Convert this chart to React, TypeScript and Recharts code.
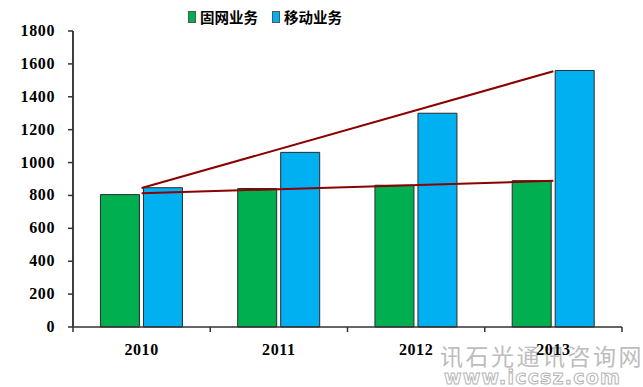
import { ComposedChart, Bar, Line, XAxis, YAxis, ReferenceLine } from "recharts";

const years = ["2010", "2011", "2012", "2013"];
const fixedValues = [805, 842, 862, 890];
const mobileValues = [847, 1062, 1300, 1560];
// trend lines drawn only between first and last year
const fixedTrend = [813, null, null, 889];
const mobileTrend = [845, null, null, 1555];
const yTicks = [0, 200, 400, 600, 800, 1000, 1200, 1400, 1600, 1800];
const boundaryTicks = [0, 1, 2, 3, 4];

const GREEN = "#00B050";
const BLUE = "#00B0F0";
const TREND = "#8B0000";
const AXIS = "#333333";

const chartData = years.map((year, i) => ({
  year,
  pos: i + 0.5,
  fixed: fixedValues[i],
  mobile: mobileValues[i],
  fixedTrend: fixedTrend[i],
  mobileTrend: mobileTrend[i],
}));

const FONT = "'Liberation Serif', 'Times New Roman', serif";

function YTick(props: any) {
  const { x, y, payload } = props;
  return (
    <text x={x} y={y} dy={5} textAnchor="end" fontFamily={FONT} fontWeight={700} fontSize={16} fill="#000" letterSpacing={0.6}>
      {payload.value}
    </text>
  );
}

function XTick(props: any) {
  const { x, y, payload } = props;
  return (
    <text x={x} y={y} dy={12} textAnchor="middle" fontFamily={FONT} fontWeight={700} fontSize={16} fill="#000" letterSpacing={0.6}>
      {payload.value}
    </text>
  );
}

function LegendBox() {
  const item = (color: string, label: string) => (
    <span style={{ display: "inline-flex", alignItems: "center", marginRight: 14 }}>
      <span style={{ width: 6, height: 10, background: color, border: "1px solid #555", marginRight: 4 }} />
      <span>{label}</span>
    </span>
  );
  return (
    <div
      style={{
        position: "absolute",
        left: 188,
        top: 7,
        fontFamily: "'Noto Sans CJK SC', sans-serif",
        fontWeight: 700,
        fontSize: 14.5,
        lineHeight: "20px",
        color: "#000",
        whiteSpace: "nowrap",
      }}
    >
      {item(GREEN, "固网业务")}
      {item(BLUE, "移动业务")}
    </div>
  );
}

function Watermark() {
  return (
    <svg width={643} height={387} style={{ position: "absolute", left: 0, top: 0 }}>
      <text
        x={440}
        y={365}
        fontFamily="'Noto Sans CJK SC', sans-serif"
        fontSize={23}
        fill="#bdbdbd"
        letterSpacing={2.5}
      >
        讯石光通讯咨询网
      </text>
      <text
        x={444}
        y={384}
        fontFamily="'DejaVu Sans', sans-serif"
        fontWeight={700}
        fontSize={19}
        fill="#fff"
        stroke="#b5b5b5"
        strokeWidth={1}
        letterSpacing={1.2}
      >
        www.iccsz.com
      </text>
    </svg>
  );
}

export default function App() {
  return (
    <div style={{ position: "absolute", left: 0, top: 0, width: 643, height: 387, background: "#fff" }}>
      <Watermark />
      <div style={{ position: "absolute", left: 0, top: 0 }}>
        <ComposedChart
          width={643}
          height={387}
          data={chartData}
          margin={{ top: 31, right: 21, bottom: 30, left: 20 }}
          barCategoryGap="20%"
          barGap={4}
        >
          <XAxis
            xAxisId="bounds"
            dataKey="pos"
            type="number"
            domain={[0, 4]}
            ticks={boundaryTicks}
            allowDataOverflow
            height={1}
            tickFormatter={() => ""}
            tickSize={5}
            stroke={AXIS}
            strokeWidth={1.5}
          />
          <XAxis
            xAxisId="cat"
            dataKey="year"
            height={29}
            axisLine={false}
            tickLine={false}
            tick={<XTick />}
            tickMargin={9}
          />
          <YAxis
            yAxisId="val"
            type="number"
            width={53}
            domain={[0, 1800]}
            ticks={yTicks}
            interval={0}
            tickSize={5}
            tickMargin={13}
            axisLine={{ stroke: AXIS, strokeWidth: 1.5 }}
            tickLine={{ stroke: AXIS, strokeWidth: 1.5 }}
            tick={<YTick />}
          />
          <ReferenceLine xAxisId="bounds" yAxisId="val" x={0} stroke={AXIS} strokeWidth={1.5} ifOverflow="visible" />
          <Bar xAxisId="cat" yAxisId="val" dataKey="fixed" fill={GREEN} stroke="#2b2b2b" strokeWidth={1} isAnimationActive={false} />
          <Bar xAxisId="cat" yAxisId="val" dataKey="mobile" fill={BLUE} stroke="#2b2b2b" strokeWidth={1} isAnimationActive={false} />
          <Line
            xAxisId="cat"
            yAxisId="val"
            dataKey="mobileTrend"
            stroke={TREND}
            strokeWidth={2}
            dot={false}
            connectNulls
            isAnimationActive={false}
          />
          <Line
            xAxisId="cat"
            yAxisId="val"
            dataKey="fixedTrend"
            stroke={TREND}
            strokeWidth={2}
            dot={false}
            connectNulls
            isAnimationActive={false}
          />
        </ComposedChart>
      </div>
      <LegendBox />
    </div>
  );
}
